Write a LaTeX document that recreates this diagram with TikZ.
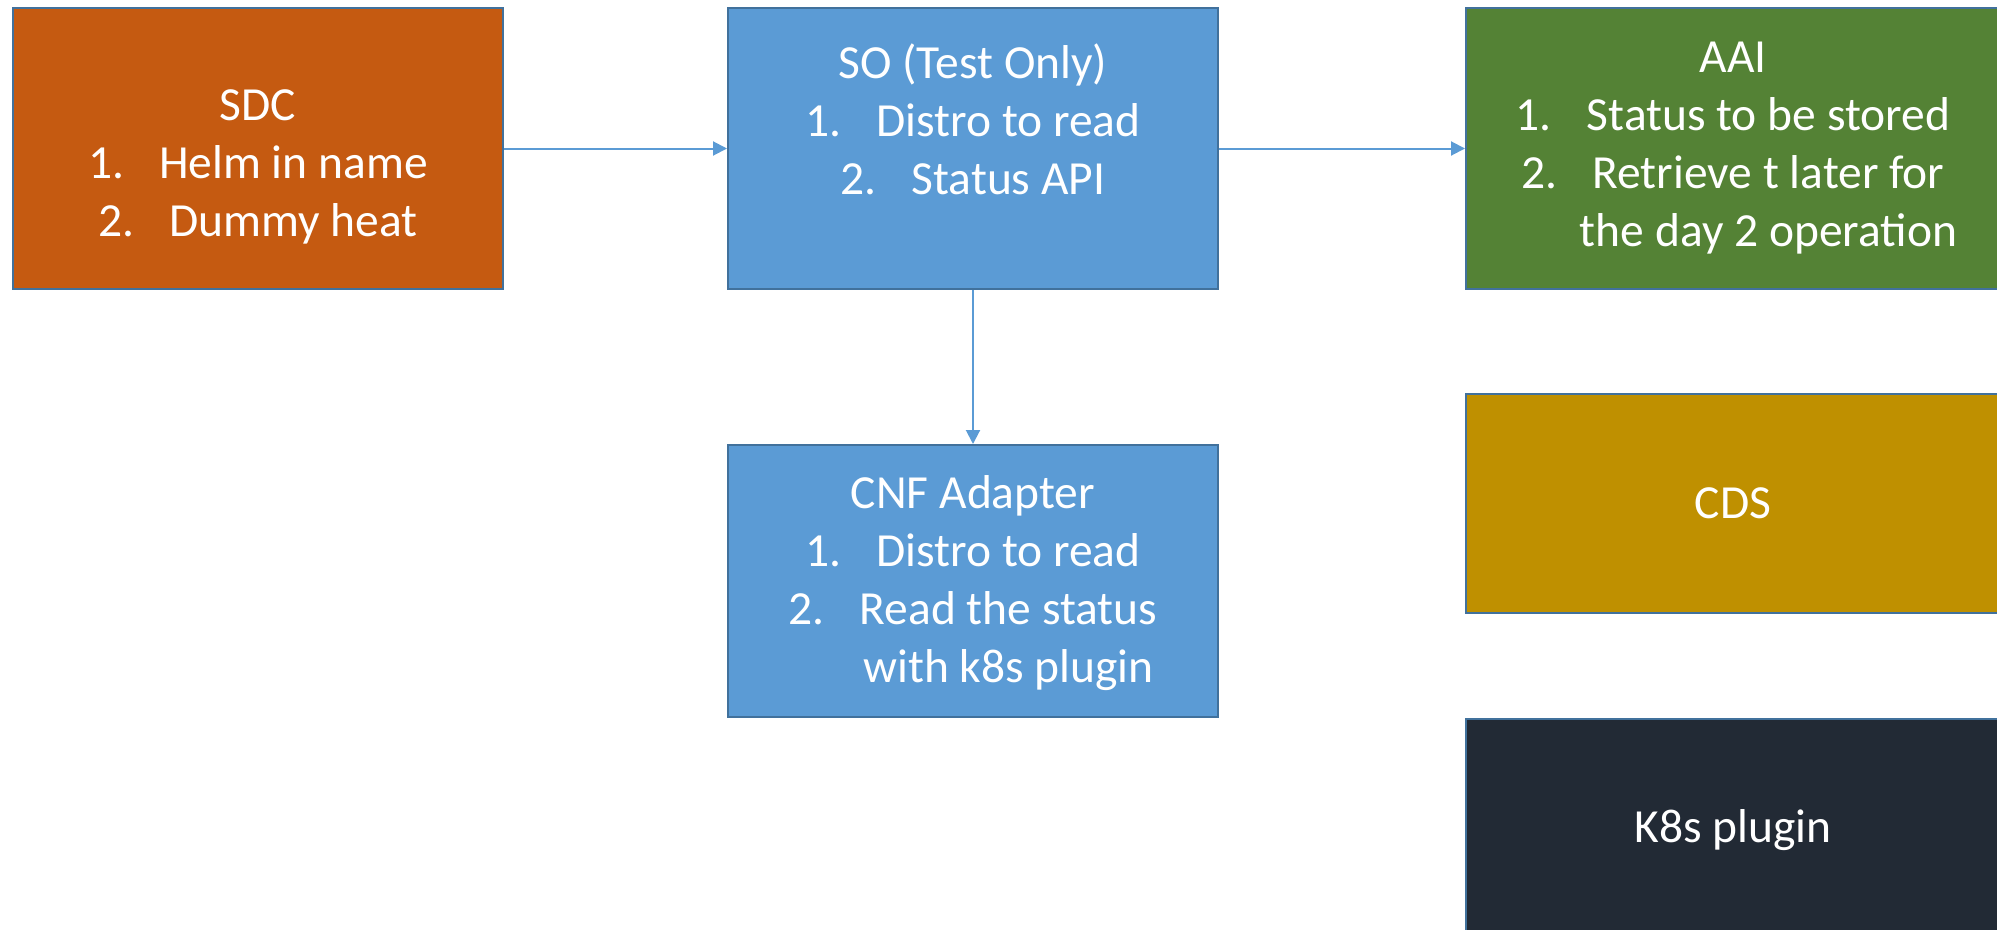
\documentclass[tikz,border=0pt]{standalone}
\usepackage{fontspec}
\setmainfont{Carlito}
\usetikzlibrary{arrows.meta}
\definecolor{sdcfill}{HTML}{C55A11}
\definecolor{bluefill}{HTML}{5B9BD5}
\definecolor{aaifill}{HTML}{548235}
\definecolor{cdsfill}{HTML}{BF9000}
\definecolor{k8sfill}{HTML}{222A35}
\definecolor{boxline}{HTML}{41719C}
\definecolor{arrowcol}{HTML}{5B9BD5}
\newcommand{\numitem}[1]{\makebox[71pt][l]{#1}}
\newcommand{\lowerby}[1]{\rule{0pt}{\dimexpr 30pt+2\dimexpr #1\relax\relax}}
\begin{document}
\begin{tikzpicture}[x=1pt,y=-1pt,
  box/.style={draw=boxline, line width=2pt, rectangle, inner sep=0pt, text=white,
    align=center, font=\fontsize{47.5}{58}\selectfont},
  conn/.style={draw=arrowcol, line width=2pt, -{Triangle[length=14pt,width=14pt]}}]
\useasboundingbox (0,0) rectangle (1997,929);
\clip (0,0) rectangle (1997,929);
\node[box, fill=sdcfill, minimum width=490pt, minimum height=281pt] (sdc) at (258,148.5)
  {\lowerby{19pt}SDC\\ \numitem{1.}Helm in name\\ \numitem{2.}Dummy heat};
\node[box, fill=bluefill, minimum width=490pt, minimum height=281pt] (so) at (973,148.5)
  {SO (Test Only)\\ \numitem{1.}Distro to read\\ \numitem{2.}Status API\\ \mbox{}};
\node[box, fill=aaifill, minimum width=534pt, minimum height=281pt] (aai) at (1733,148.5)
  {AAI\\ \numitem{1.}Status to be stored\\ \numitem{2.}Retrieve t later for\\ \hspace*{71pt}the day 2 operation};
\node[box, fill=bluefill, minimum width=490pt, minimum height=272pt] (cnf) at (973,581)
  {\lowerby{4pt}CNF Adapter\\ \numitem{1.}Distro to read\\ \numitem{2.}Read the status\\ \hspace*{71pt}with k8s plugin};
\node[box, fill=cdsfill, minimum width=534pt, minimum height=219pt] (cds) at (1733,503.5) {CDS};
\node[box, fill=k8sfill, minimum width=534pt, minimum height=222pt] (k8s) at (1733,830) {K8s plugin};
\draw[conn] (sdc.east) -- (so.west);
\draw[conn] (so.east) -- (aai.west);
\draw[conn] (so.south) -- (cnf.north);
\end{tikzpicture}
\end{document}
